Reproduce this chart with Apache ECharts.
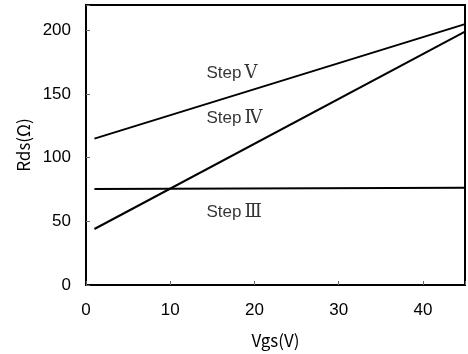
<!DOCTYPE html>
<html><head><meta charset="utf-8">
<script src="https://cdn.jsdelivr.net/npm/echarts@6/dist/echarts.min.js"></script>
<style>html,body{margin:0;padding:0;background:#fff}#c{width:468px;height:354px}</style>
</head><body><div id="c"></div>
<script>
var xTicks = [0, 10, 20, 30, 40];
var yTicks = [0, 50, 100, 150, 200];
var stepV_x = [1, 45];
var stepV_y = [115, 205];
var stepIV_x = [1, 45];
var stepIV_y = [44, 199];
var stepIII_x = [1, 45];
var stepIII_y = [75.5, 76.5];
var labelWord = ['Step', 'Step', 'Step'];
var labelNum = ['\u2164', '\u2163', '\u2162'];
var labelX = [14.3, 14.3, 14.3];
var labelY = [166, 131, 57];

function pts(xs, ys){ return xs.map(function(x,i){return [x, ys[i]];}); }
var font = '"Noto Sans CJK JP", "DejaVu Sans", sans-serif';
var numFont = '"Liberation Sans", Arial, sans-serif';
var lineStyle = {color:'#000', width:2};
var chart = echarts.init(document.getElementById('c'));
chart.setOption({
  animation:false,
  backgroundColor:'#fff',
  grid:{left:86, top:5, right:-3, bottom:69, show:true, borderColor:'#000', borderWidth:2},
  xAxis:{type:'value', min:0, max:45, interval:10,
    name:'Vgs(V)', nameLocation:'middle', nameGap:47,
    nameTextStyle:{fontSize:17, color:'#000', fontFamily:font},
    axisLine:{show:true, onZero:false, lineStyle:{color:'#000', width:2}},
    axisTick:{show:true, inside:true, length:4, lineStyle:{color:'#666'}},
    axisLabel:{fontSize:17, color:'#000', margin:17, fontFamily:numFont,
      formatter:function(v){return xTicks.indexOf(v)>=0 ? String(v) : '';}},
    splitLine:{show:false}},
  yAxis:{type:'value', min:0, max:220, interval:50,
    name:'Rds(\u03A9)', nameLocation:'middle', nameGap:54, nameRotate:90,
    nameTextStyle:{fontSize:17, color:'#000', fontFamily:font},
    axisLine:{show:true, onZero:false, lineStyle:{color:'#000', width:2}},
    axisTick:{show:true, inside:true, length:4, lineStyle:{color:'#666'}},
    axisLabel:{fontSize:17, color:'#000', margin:15, fontFamily:numFont,
      formatter:function(v){return yTicks.indexOf(v)>=0 ? String(v) : '';}},
    splitLine:{show:false}},
  series:[
    {type:'line', data:pts(stepV_x, stepV_y), symbol:'none', lineStyle:lineStyle},
    {type:'line', data:pts(stepIV_x, stepIV_y), symbol:'none', lineStyle:lineStyle},
    {type:'line', data:pts(stepIII_x, stepIII_y), symbol:'none', lineStyle:lineStyle},
    {type:'scatter', symbolSize:0, silent:true,
      data:labelWord.map(function(n,i){return {value:[labelX[i], labelY[i]], name:n + '|' + labelNum[i]};}),
      label:{show:true, position:'right', distance:0,
        formatter:function(p){var s=p.name.split('|'); return '{a|'+s[0]+'}{b|'+s[1]+'}';},
        rich:{
          a:{fontSize:17, color:'#000', fontFamily:numFont},
          b:{fontSize:18, color:'#000', fontFamily:'"DejaVu Serif", "Liberation Serif", serif', padding:[0,0,0,3]}
        }}}
  ]
});
</script></body></html>
